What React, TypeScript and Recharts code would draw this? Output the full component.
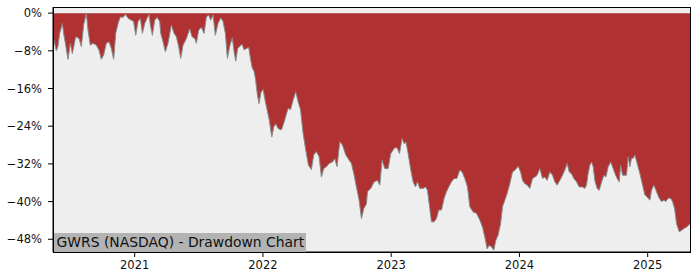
import React from 'react';
import { AreaChart, Area, XAxis, YAxis, CartesianGrid } from 'recharts';

// time in decimal years
const years = [
  2020.363, 2020.376, 2020.389, 2020.402, 2020.415, 2020.436, 2020.446, 2020.462, 2020.48, 2020.498,
  2020.514, 2020.54, 2020.566, 2020.584, 2020.602, 2020.623, 2020.636, 2020.654, 2020.675, 2020.701,
  2020.722, 2020.74, 2020.758, 2020.779, 2020.8, 2020.818, 2020.836, 2020.852, 2020.87, 2020.888,
  2020.909, 2020.93, 2020.948, 2020.974, 2020.992, 2021.008, 2021.026, 2021.044, 2021.06, 2021.078,
  2021.096, 2021.112, 2021.122, 2021.138, 2021.156, 2021.174, 2021.195, 2021.203, 2021.221, 2021.239,
  2021.26, 2021.286, 2021.307, 2021.325, 2021.343, 2021.359, 2021.377, 2021.403, 2021.429, 2021.447,
  2021.468, 2021.481, 2021.499, 2021.52, 2021.541, 2021.559, 2021.577, 2021.593, 2021.611, 2021.629,
  2021.65, 2021.671, 2021.689, 2021.707, 2021.723, 2021.741, 2021.761, 2021.775, 2021.788, 2021.803,
  2021.819, 2021.837, 2021.853, 2021.871, 2021.889, 2021.905, 2021.915, 2021.931, 2021.942, 2021.956,
  2021.969, 2021.985, 2022.001, 2022.022, 2022.048, 2022.069, 2022.084, 2022.1, 2022.118, 2022.144,
  2022.17, 2022.196, 2022.215, 2022.235, 2022.256, 2022.274, 2022.293, 2022.313, 2022.334, 2022.355,
  2022.378, 2022.396, 2022.417, 2022.438, 2022.456, 2022.474, 2022.495, 2022.516, 2022.542, 2022.56,
  2022.578, 2022.599, 2022.62, 2022.646, 2022.672, 2022.69, 2022.708, 2022.729, 2022.75, 2022.768,
  2022.786, 2022.807, 2022.815, 2022.841, 2022.867, 2022.893, 2022.911, 2022.929, 2022.95, 2022.976,
  2022.997, 2023.023, 2023.044, 2023.065, 2023.085, 2023.101, 2023.116, 2023.132, 2023.153, 2023.171,
  2023.19, 2023.205, 2023.223, 2023.249, 2023.268, 2023.283, 2023.301, 2023.314, 2023.335, 2023.353,
  2023.371, 2023.392, 2023.413, 2023.431, 2023.449, 2023.47, 2023.491, 2023.512, 2023.535, 2023.553,
  2023.574, 2023.595, 2023.613, 2023.639, 2023.665, 2023.691, 2023.712, 2023.73, 2023.748, 2023.764,
  2023.782, 2023.8, 2023.816, 2023.834, 2023.853, 2023.868, 2023.886, 2023.904, 2023.925, 2023.946,
  2023.966, 2023.99, 2024.009, 2024.024, 2024.042, 2024.06, 2024.081, 2024.102, 2024.12, 2024.138,
  2024.159, 2024.18, 2024.198, 2024.216, 2024.237, 2024.258, 2024.276, 2024.294, 2024.315, 2024.336,
  2024.354, 2024.372, 2024.388, 2024.406, 2024.424, 2024.445, 2024.466, 2024.492, 2024.51, 2024.523,
  2024.536, 2024.549, 2024.562, 2024.575, 2024.588, 2024.606, 2024.622, 2024.641, 2024.659, 2024.674,
  2024.692, 2024.711, 2024.726, 2024.744, 2024.762, 2024.778, 2024.789, 2024.804, 2024.822, 2024.835,
  2024.848, 2024.861, 2024.874, 2024.887, 2024.9, 2024.918, 2024.939, 2024.96, 2024.978, 2024.996,
  2025.017, 2025.03, 2025.048, 2025.069, 2025.09, 2025.108, 2025.126, 2025.142, 2025.16, 2025.179,
  2025.194, 2025.21, 2025.225, 2025.246, 2025.265, 2025.283, 2025.304, 2025.33,
];

// drawdown in percent
const drawdown = [
  -4.7, -6.5, -8.0, -7.0, -4.3, -2.2, -4.3, -6.8, -9.8, -6.4,
  -8.6, -5.0, -5.4, -7.1, -2.5, 0, -3.6, -6.8, -6.4, -6.8,
  -7.9, -9.8, -8.9, -6.4, -6.1, -7.5, -9.8, -4.3, -2.2, -0.8,
  -0.9, -0.3, -1.1, -1.5, -1.8, -4.7, -1.8, -1.1, -4.3, -2.2,
  -1.1, -0.3, -2.5, -4.7, -1.5, -0.9, -1.8, -4.3, -6.1, -8.2,
  -6.4, -2.5, -4.3, -5.0, -7.1, -9.6, -6.8, -5.4, -3.3, -5.0,
  -5.4, -6.4, -3.6, -3.0, -4.3, -0.8, -0.4, -1.5, -0.4, -4.7,
  -2.2, -1.0, -1.8, -4.3, -9.6, -7.0, -5.2, -8.2, -10.2, -7.5,
  -7.1, -6.6, -7.8, -7.5, -7.3, -10.0, -11.5, -12.4, -14.0, -17.2,
  -19.2, -16.8, -16.2, -19.2, -22.5, -26.3, -24.2, -23.5, -24.5, -24.8,
  -22.7, -20.2, -20.5, -18.5, -16.7, -18.8, -20.5, -25.5, -29.1, -32.3,
  -33.2, -30.1, -29.4, -30.5, -34.8, -33.0, -32.6, -31.9, -31.6, -30.9,
  -32.6, -27.3, -28.0, -30.1, -31.2, -31.9, -34.0, -36.9, -39.7, -43.6,
  -41.5, -40.5, -37.9, -37.2, -35.8, -35.5, -36.5, -31.2, -33.0, -33.0,
  -29.8, -28.7, -28.5, -29.8, -26.6, -27.7, -27.4, -29.8, -33.3, -35.8,
  -36.9, -35.8, -37.2, -37.2, -36.9, -37.6, -41.5, -44.3, -44.3, -43.6,
  -41.8, -41.8, -39.3, -37.9, -36.9, -35.8, -35.1, -35.1, -33.3, -33.7,
  -35.1, -36.9, -41.1, -42.2, -42.5, -43.9, -45.4, -47.5, -50.0, -49.3,
  -49.6, -50.3, -48.2, -47.1, -44.7, -41.1, -39.7, -38.3, -36.2, -33.7,
  -33.3, -32.5, -33.7, -35.5, -36.2, -36.5, -37.2, -35.1, -34.8, -34.4,
  -33.0, -35.1, -34.8, -35.5, -33.7, -34.4, -35.8, -36.5, -35.5, -34.4,
  -33.3, -31.9, -33.7, -34.1, -35.1, -35.8, -36.9, -36.9, -37.2, -36.5,
  -34.0, -32.3, -31.6, -32.6, -35.5, -37.2, -37.6, -35.8, -34.4, -34.8,
  -32.6, -31.6, -32.6, -34.0, -35.1, -35.8, -32.3, -34.4, -34.4, -34.4,
  -30.5, -32.6, -30.8, -30.8, -30.1, -31.9, -34.0, -36.5, -38.6, -39.0,
  -39.7, -37.6, -36.5, -37.9, -39.3, -40.0, -39.7, -40.0, -39.3, -39.3,
  -40.0, -41.5, -44.7, -46.4, -46.1, -45.7, -45.4, -44.7,
];

const xTicks = [2021, 2022, 2023, 2024, 2025];
const yTicks = [0, -8, -16, -24, -32, -40, -48];
const title = 'GWRS (NASDAQ) - Drawdown Chart';

const data = years.map((t, i) => ({ t, dd: drawdown[i] }));

const xDomain: [number, number] = [2020.363, 2025.33];
const yDomain: [number, number] = [-50.7, 1.3];

const fmtPct = (v: number) => (v < 0 ? '\u2212' + Math.abs(v) : String(v)) + '%';
const tickStyle = { fill: '#111', fontSize: 11.5, fontFamily: 'DejaVu Sans' };

export default function App() {
  return (
    <div style={{ position: 'absolute', left: 0, top: 0, width: 700, height: 280, background: '#fff' }}>
      <AreaChart width={700} height={280} data={data} margin={{ top: 7, right: 10, left: 0, bottom: 0 }}>
        <CartesianGrid horizontal={false} vertical={false} fill="#eeeeee" stroke="none" />
        <XAxis
          dataKey="t"
          type="number"
          domain={xDomain}
          allowDataOverflow
          ticks={xTicks}
          tickFormatter={(v: number) => String(v)}
          height={28}
          tickSize={5}
          tickMargin={4}
          stroke="#000"
          tick={tickStyle}
        />
        <YAxis
          type="number"
          domain={yDomain}
          allowDataOverflow
          ticks={yTicks}
          tickFormatter={fmtPct}
          width={53}
          tickSize={5}
          tickMargin={6}
          stroke="#000"
          tick={tickStyle}
        />
        <Area
          dataKey="dd"
          type="linear"
          baseValue={0}
          fill="#b03131"
          fillOpacity={1}
          stroke="#8a8a8a"
          strokeWidth={1}
          isAnimationActive={false}
          dot={false}
          activeDot={false}
        />
      </AreaChart>
      <div
        style={{
          position: 'absolute',
          left: 54,
          top: 233,
          width: 252,
          height: 18.5,
          lineHeight: '19px',
          background: '#b3b3b3',
          color: '#111',
          fontFamily: 'DejaVu Sans',
          fontSize: 13.9,
          paddingLeft: 2.5,
          boxSizing: 'border-box',
          whiteSpace: 'nowrap',
          overflow: 'hidden',
        }}
      >
        {title}
      </div>
      <div
        style={{
          position: 'absolute',
          left: 52.5,
          top: 6.5,
          width: 638,
          height: 246,
          border: '1px solid #000',
          boxSizing: 'border-box',
          pointerEvents: 'none',
        }}
      />
    </div>
  );
}
